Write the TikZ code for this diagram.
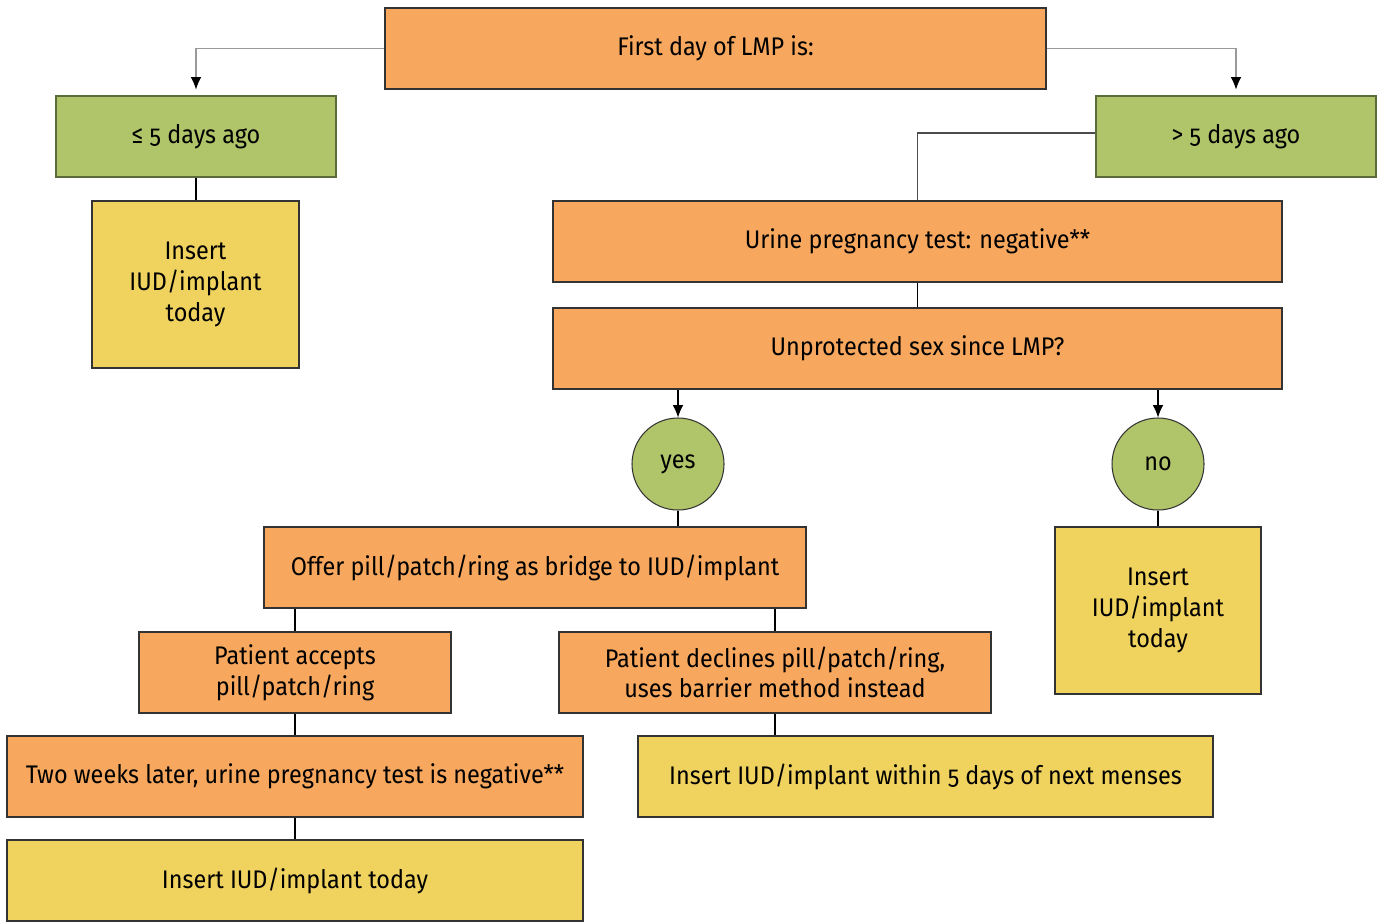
\documentclass[tikz,border=0pt]{standalone}
\usepackage{fontspec}
\setmainfont{Fira Sans}[Numbers=OldStyle,FakeStretch=0.92]
\usepackage{tikz}
\usetikzlibrary{arrows.meta}
\usepackage{xcolor}

\definecolor{boxorange}{HTML}{F7A85E}
\definecolor{boxgreen}{HTML}{B0C46A}
\definecolor{boxyellow}{HTML}{F0D35F}
\definecolor{greenedge}{HTML}{5C6B3A}

\tikzset{
  box/.style={draw=black!80,line width=0.6pt,align=center,inner sep=2pt,
    font=\fontsize{14.5}{17.4}\selectfont,minimum height=1.62cm},
  orangebox/.style={box,fill=boxorange},
  greenbox/.style={box,fill=boxgreen,draw=greenedge},
  yellowbox/.style={box,fill=boxyellow},
  answer/.style={circle,draw=black!80,line width=0.6pt,fill=boxgreen,
    minimum size=1.84cm,inner sep=0pt,font=\fontsize{14.5}{17.4}\selectfont},
  link/.style={line width=0.6pt,black},
  greylink/.style={line width=0.6pt,black!40},
  tip/.style={-{Latex[length=7pt,width=6pt,color=black]}}
}

\begin{document}
\begin{tikzpicture}
\useasboundingbox (0,0) rectangle (27.54,-18.44);

\node [orangebox,minimum width=13.22cm] (lmp) at (14.31,-0.97) {First day of LMP is:};
\node [greenbox,minimum width=5.6cm] (le) at (3.92,-2.73) {≤ 5 days ago};
\node [greenbox,minimum width=5.6cm] (gt) at (24.72,-2.73) {> 5 days ago};
\node [yellowbox,minimum width=4.14cm,minimum height=3.34cm] (insl) at (3.91,-5.69) {Insert\\IUD/implant\\today};

\node [orangebox,minimum width=14.58cm] (urine) at (18.35,-4.83) {Urine pregnancy test: negative**};
\node [orangebox,minimum width=14.58cm] (unprot) at (18.35,-6.97) {Unprotected sex since LMP?};
\node [answer] (yes) at (13.56,-9.28) {yes};
\node [answer] (no) at (23.16,-9.28) {no};

\node [orangebox,minimum width=10.84cm] (offer) at (10.70,-11.35) {Offer pill/patch/ring as bridge to IUD/implant};
\node [yellowbox,minimum width=4.12cm,minimum height=3.34cm] (insr) at (23.16,-12.21) {Insert\\IUD/implant\\today};
\node [orangebox,minimum width=6.24cm] (acc) at (5.90,-13.45) {Patient accepts\\pill/patch/ring};
\node [orangebox,minimum width=8.64cm] (dec) at (15.50,-13.45) {Patient declines pill/patch/ring,\\uses barrier method instead};
\node [orangebox,minimum width=11.52cm] (two) at (5.90,-15.53) {Two weeks later, urine pregnancy test is negative**};
\node [yellowbox,minimum width=11.5cm] (within) at (18.51,-15.53) {Insert IUD/implant within 5 days of next menses};
\node [yellowbox,minimum width=11.52cm] (today) at (5.90,-17.61) {Insert IUD/implant today};

% branches from the top box
\draw [greylink,tip,shorten >=3.4pt] (lmp.west) -| (le.north);
\draw [greylink,tip,shorten >=3.4pt] (lmp.east) -| (gt.north);
\draw [link] (le.south) -- (le.south |- insl.north);
\draw [link,black!70] ([yshift=0.07cm]gt.west) -| (urine.north);
\draw [link] (urine.south) -- (unprot.north);

% yes / no
\draw [link,tip] (yes.north |- unprot.south) -- (yes.north);
\draw [link,tip] (no.north |- unprot.south) -- (no.north);
\draw [link] (yes.south) -- (yes.south |- offer.north);
\draw [link] (no.south) -- (insr.north);

% bridge
\draw [link] (acc.north |- offer.south) -- (acc.north);
\draw [link] (dec.north |- offer.south) -- (dec.north);
\draw [link] (acc.south) -- (two.north);
\draw [link] (dec.south) -- (dec.south |- within.north);
\draw [link] (two.south) -- (today.north);
\end{tikzpicture}
\end{document}
